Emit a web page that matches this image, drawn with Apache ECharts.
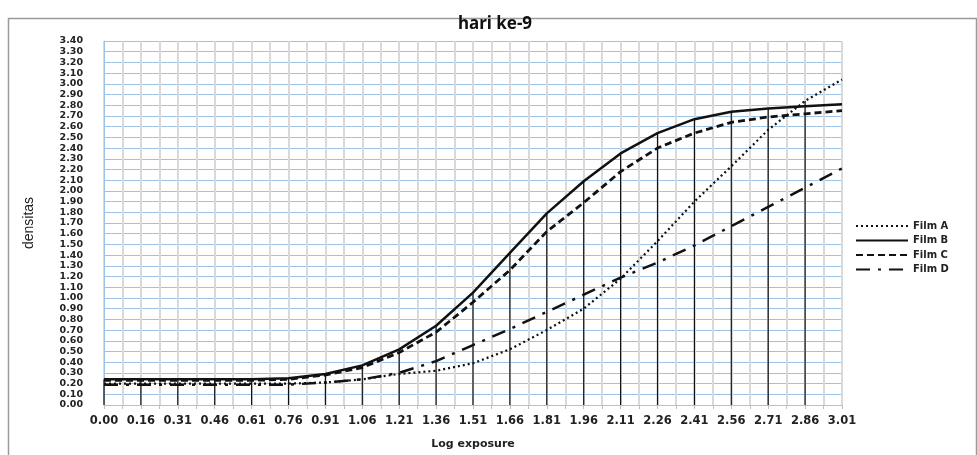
<!DOCTYPE html>
<html><head><meta charset="utf-8">
<script src="https://cdn.jsdelivr.net/npm/echarts@6/dist/echarts.min.js"></script>
<style>html,body{margin:0;padding:0;background:#fff}#c{width:977px;height:455px}</style>
</head><body><div id="c"></div>
<script>
const xLabels = ['0.00','0.16','0.31','0.46','0.61','0.76','0.91','1.06','1.21','1.36','1.51','1.66','1.81','1.96','2.11','2.26','2.41','2.56','2.71','2.86','3.01'];
const filmA = [0.20,0.20,0.20,0.20,0.20,0.20,0.21,0.24,0.29,0.32,0.39,0.52,0.70,0.90,1.18,1.53,1.90,2.23,2.57,2.84,3.04];
const filmB = [0.24,0.24,0.24,0.24,0.24,0.25,0.29,0.37,0.52,0.74,1.05,1.42,1.79,2.09,2.35,2.54,2.67,2.74,2.77,2.79,2.81];
const filmC = [0.23,0.23,0.23,0.23,0.23,0.24,0.28,0.35,0.49,0.68,0.96,1.26,1.62,1.89,2.18,2.40,2.54,2.64,2.69,2.72,2.75];
const filmD = [0.19,0.19,0.19,0.19,0.19,0.19,0.21,0.24,0.30,0.41,0.56,0.71,0.87,1.03,1.19,1.33,1.49,1.67,1.85,2.03,2.21];
const yTicks = {min:0, max:3.4, step:0.1};

const pts = arr => arr.map((v,i)=>[i,v]);
// drop lines from the axis up to the highest series at each category (the last one coincides with the plot edge)
const dropTop = xLabels.slice(0,-1).map((_,i)=>[i, Math.max(filmA[i],filmB[i],filmC[i],filmD[i])]);
const lab = {fontFamily:'DejaVu Sans', fontWeight:'bold', color:'#222'};
const chart = echarts.init(document.getElementById('c'));
chart.setOption({
  animation:false,
  graphic:[{type:'rect', left:6, top:16, shape:{width:968, height:460}, style:{fill:'none', stroke:'#9a9a9a', lineWidth:1.5}, silent:true}],
  title:{text:'hari ke-9', left:490, textAlign:'center', top:11, textStyle:{fontFamily:'Noto Sans', fontWeight:'bold', fontSize:17, color:'#111'}},
  legend:{orient:'vertical', left:850, top:216, itemWidth:52, itemHeight:9, itemGap:4.5,
    itemStyle:{opacity:0},
    textStyle:{fontFamily:'DejaVu Sans', fontWeight:'bold', fontSize:10, color:'#222'},
    data:['Film A','Film B','Film C','Film D']},
  grid:{left:104, right:135, top:41, bottom:43},
  xAxis:{type:'value', min:0, max:xLabels.length-1, interval:1,
    name:'Log exposure', nameLocation:'middle', nameGap:34,
    nameTextStyle:{...lab, fontSize:11},
    axisLabel:{...lab, fontSize:11.5, margin:10, formatter:v=>xLabels[Math.round(v)]||''},
    axisLine:{lineStyle:{color:'#bfbfbf', width:1}},
    axisTick:{show:true, length:4, lineStyle:{color:'#bfbfbf'}},
    minorTick:{show:true, splitNumber:2, length:4, lineStyle:{color:'#bfbfbf'}},
    splitLine:{show:true, lineStyle:{color:'#d9d9d9', width:2}},
    minorSplitLine:{show:true, lineStyle:{color:'#d9d9d9', width:2}}},
  yAxis:{type:'value', min:yTicks.min, max:yTicks.max, interval:yTicks.step,
    name:'densitas', nameLocation:'middle', nameGap:68, nameRotate:90,
    nameTextStyle:{fontFamily:'Liberation Sans Narrow, Liberation Sans', fontSize:14, color:'#222'},
    axisLabel:{...lab, fontSize:9.5, margin:21, formatter:v=>v.toFixed(2)},
    axisLine:{show:true, lineStyle:{color:'#9dc3e6'}},
    axisTick:{show:false},
    splitLine:{lineStyle:{color:'#9dc3e6', width:1.2}}},
  series:[
    {type:'bar', name:'drop', data:dropTop, barWidth:1.2, itemStyle:{color:'#111'}, silent:true, z:1, legendHoverLink:false},
    {type:'line', name:'Film A', data:pts(filmA), symbol:'none', z:3, lineStyle:{color:'#111', width:2.2, type:[2,3]}, itemStyle:{color:'#111'}},
    {type:'line', name:'Film B', data:pts(filmB), symbol:'none', z:3, lineStyle:{color:'#111', width:2.5, type:'solid'}, itemStyle:{color:'#111'}},
    {type:'line', name:'Film C', data:pts(filmC), symbol:'none', z:3, lineStyle:{color:'#111', width:2.8, type:[7,4]}, itemStyle:{color:'#111'}},
    {type:'line', name:'Film D', data:pts(filmD), symbol:'none', z:3, lineStyle:{color:'#111', width:2.5, type:[14,8,3,8]}, itemStyle:{color:'#111'}}
  ]
});
</script></body></html>
